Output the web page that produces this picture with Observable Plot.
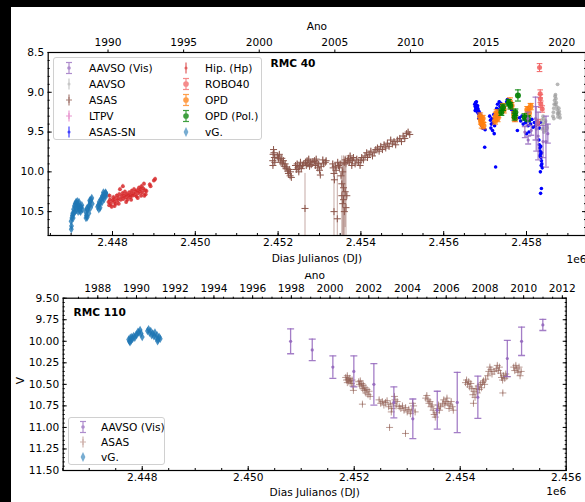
<!DOCTYPE html>
<html><head><meta charset="utf-8">
<script src="https://cdn.jsdelivr.net/npm/d3@7"></script>
<script src="https://cdn.jsdelivr.net/npm/@observablehq/plot@0.6"></script>
<style>
html,body{margin:0;padding:0;background:#fff;overflow:hidden;}
#wrap{position:relative;width:585px;height:502px;overflow:hidden;background:#fff;font-family:"DejaVu Sans",sans-serif;}
#top{position:absolute;left:0;top:0;z-index:2;width:600px;height:273px;overflow:hidden;background:#fff;}
#bot{position:absolute;left:0;top:240px;z-index:1;width:600px;height:262px;}
#top svg,#bot svg{max-width:none !important;display:block;}
.blk{position:absolute;background:#000;z-index:10;}
.legend{position:absolute;z-index:5;background:rgba(255,255,255,0.8);border:1px solid #d0d0d0;border-radius:3px;font-size:10.6px;box-sizing:border-box;}
.row{position:absolute;height:16px;line-height:16px;white-space:nowrap;color:#000;}
.row svg{position:absolute;top:0;}
</style></head>
<body>
<div id="wrap">
  <div id="top"></div>
  <div id="bot"></div>
  <div class="blk" style="left:0;top:0;width:585px;height:7px"></div>
  <div class="blk" style="left:0;top:0;width:11px;height:502px"></div>
</div>
<script>
// ---------- tick labels ----------
const topXTicks = [2448000, 2450000, 2452000, 2454000, 2456000, 2458000];
const topYTicks = [8.5, 9.0, 9.5, 10.0, 10.5];
const topYears = [1990, 1995, 2000, 2005, 2010, 2015, 2020];
const botXTicks = [2448000, 2450000, 2452000, 2454000, 2456000];
const botYTicks = [9.5, 9.75, 10.0, 10.25, 10.5, 10.75, 11.0, 11.25, 11.5];
const botYears = [1988, 1990, 1992, 1994, 1996, 1998, 2000, 2002, 2004, 2006, 2008, 2010, 2012];

// ---------- RMC 40 series [JD, mag, err] ----------
const topVG = [[2447000,10.62],[2447010,10.68],[2447020,10.58],[2447030,10.55],[2447040,10.52],[2447060,10.47],[2447080,10.43],[2447100,10.40],[2447120,10.38],[2447140,10.40],[2447160,10.44],[2447180,10.42],[2447200,10.46],[2447220,10.43],[2447240,10.45],[2447260,10.42],[2447270,10.47],[2447090,10.50],[2447130,10.48],[2447170,10.50],[2447210,10.49],[2447050,10.58],[2447110,10.45],[2447150,10.37],[2447190,10.38],[2447230,10.50],[2447005,10.72],[2447070,10.52],
[2447350,10.50],[2447370,10.55],[2447390,10.57],[2447400,10.48],[2447420,10.44],[2447440,10.42],[2447460,10.38],[2447480,10.35],[2447500,10.33],[2447510,10.40],[2447430,10.52],[2447470,10.45],[2447380,10.46],[2447360,10.58],[2447450,10.36],
[2447640,10.44],[2447660,10.42],[2447680,10.38],[2447700,10.40],[2447720,10.35],[2447740,10.33],[2447760,10.30],[2447780,10.32],[2447800,10.28],[2447820,10.30],[2447840,10.27],[2447860,10.29],[2447700,10.45],[2447750,10.38],[2447800,10.34],[2447830,10.26],[2447670,10.47],[2447780,10.26]];
const topHip = [[2447905,10.38],[2447920,10.42],[2447940,10.35],[2447960,10.40],[2447980,10.44],[2448000,10.36],[2448020,10.32],[2448040,10.38],[2448060,10.34],[2448080,10.40],[2448100,10.30],[2448120,10.36],[2448140,10.33],[2448160,10.28],[2448180,10.22],[2448200,10.35],[2448220,10.31],[2448240,10.27],[2448260,10.34],[2448280,10.30],[2448300,10.25],[2448320,10.32],[2448340,10.28],[2448360,10.35],[2448380,10.30],[2448400,10.26],[2448420,10.32],[2448440,10.29],[2448460,10.24],[2448480,10.30],[2448500,10.27],[2448520,10.22],[2448540,10.29],[2448560,10.25],[2448580,10.31],[2448600,10.23],[2448620,10.27],[2448640,10.20],[2448660,10.25],[2448680,10.22],[2448700,10.18],[2448720,10.26],[2448740,10.21],[2448760,10.15],[2448780,10.23],[2448800,10.28],[2448820,10.24],[2448900,10.16],[2448920,10.18],[2449000,10.11],[2449030,10.09],[2448250,10.18],[2448150,10.40],[2447930,10.30],[2448050,10.43],[2448330,10.38],[2448450,10.35],[2448610,10.33],[2448690,10.30],[2448770,10.30]];
const topASAS = [[2451870,9.86],[2451880,9.78],[2451890,9.72],[2451900,9.76],[2451910,9.82],[2451920,9.88],[2451875,9.92],[2451990,9.80],[2452010,9.83],[2452030,9.78],[2452050,9.85],[2452070,9.88],[2452090,9.83],[2452110,9.90],[2452130,9.86],[2452150,9.93],[2452170,9.90],[2452190,9.96],[2452210,9.94],[2452230,9.99],[2452250,10.02],[2452270,9.97],[2452290,10.05],[2452300,10.00],[2452320,10.07],
[2452420,9.92],[2452440,9.97],[2452460,9.90],[2452480,9.95],[2452500,10.00],[2452520,9.93],[2452540,9.88],[2452560,9.96],[2452590,9.92],[2452620,9.90],[2452660,9.88],[2452680,9.92],[2452700,9.86],[2452720,9.90],[2452740,9.84],[2452760,9.93],[2452780,9.88],[2452800,9.91],[2452840,9.87],[2452880,9.86],[2452900,9.92],[2452920,9.84],[2452940,9.89],[2452960,9.95],[2452980,9.90],[2453000,9.98],[2453020,10.04],[2453040,9.93],[2453080,9.85],[2453100,9.90],[2453140,9.88],[2453160,9.86],
[2453320,9.90],[2453330,9.95],[2453350,10.02],[2453360,10.10],[2453380,9.93],[2453400,9.98],[2453440,9.88],[2453460,9.92],[2453480,9.95],[2453500,9.90],[2453520,10.05],[2453540,10.15],[2453560,10.00],[2453580,10.20],[2453600,9.88],[2453620,9.85],[2453640,9.90],[2453660,10.30],[2453680,9.86],
[2453700,9.83],[2453720,9.88],[2453740,9.80],[2453760,9.85],[2453780,9.92],[2453800,9.86],[2453820,9.82],[2453860,9.90],[2453900,9.84],[2453940,9.88],[2453980,9.92],[2454000,9.86],[2454020,9.82],[2454060,9.85],[2454100,9.80],[2454140,9.76],[2454160,9.82],[2454200,9.78],[2454240,9.74],[2454280,9.80],[2454320,9.76],[2454360,9.72],[2454400,9.70],[2454440,9.74],[2454480,9.68],[2454520,9.72],[2454560,9.66],[2454600,9.70],[2454640,9.64],[2454680,9.68],[2454720,9.60],[2454760,9.65],[2454800,9.62],[2454840,9.66],[2454880,9.60],[2454940,9.58],[2454980,9.62],[2455020,9.55],[2455060,9.58],[2455100,9.52],[2455140,9.50],[2455180,9.53]];
const topASASBig = [[2452650,10.46,0.44],[2453350,10.50,0.55],[2453430,10.59,0.55],[2453540,10.30,0.5],[2453560,10.40,0.5],[2453580,10.35,0.55],[2453600,10.50,0.6],[2453620,10.25,0.45],[2453640,10.45,0.5]];
const topASASSN = [[2456750,9.15],[2456760,9.18],[2456770,9.13],[2456780,9.20],[2456790,9.16],[2456800,9.22],[2456810,9.19],[2456820,9.25],[2456830,9.21],[2456840,9.27],[2456850,9.24],[2456860,9.30],[2456870,9.26],[2456880,9.32],[2456890,9.29],[2456900,9.35],[2456910,9.38],[2456920,9.42],[2456930,9.40],[2456940,9.45],[2456760,9.23],[2456790,9.12],[2456820,9.17],[2456850,9.33],
[2456990,9.69],[2457000,9.47],[2457254,9.94],
[2457110,9.30],[2457130,9.35],[2457150,9.40],[2457170,9.33],[2457190,9.38],[2457210,9.28],[2457230,9.42],[2457140,9.45],[2457180,9.48],[2457220,9.52],
[2457280,9.20],[2457300,9.15],[2457320,9.22],[2457340,9.12],[2457360,9.18],[2457380,9.14],[2457400,9.24],[2457420,9.19],
[2457520,9.12],[2457540,9.09],[2457560,9.15],[2457580,9.11],[2457600,9.18],[2457620,9.14],[2457640,9.22],
[2457680,9.25],[2457700,9.30],[2457720,9.35],[2457740,9.28],[2457760,9.33],[2457780,9.48],
[2457830,9.32],[2457860,9.36],[2457890,9.30],[2457920,9.40],[2457950,9.34],[2457980,9.38],[2458010,9.32],[2458040,9.42],[2458070,9.36],[2458100,9.40],[2458130,9.34],[2458160,9.44],[2458190,9.38],[2458220,9.42],[2458250,9.36],[2458280,9.40],[2458310,9.45],[2458340,9.38],[2458000,9.52],[2458060,9.50],
[2458300,9.60],[2458310,9.66],[2458320,9.70],[2458330,9.74],[2458340,9.78],[2458350,9.82],[2458360,9.86],[2458370,9.90],[2458380,9.95],[2458325,9.80],[2458345,9.68],[2458355,9.92],[2458365,9.76],[2458335,10.00],[2458340,10.27],[2458360,10.21]];
const topOPD = [[2456880,9.30,0.04],[2456900,9.36,0.04],[2456920,9.40,0.05],[2456940,9.33,0.04],[2456960,9.42,0.04],[2457240,9.36,0.04],[2457260,9.30,0.05],[2457280,9.26,0.04],[2457300,9.33,0.04],[2457320,9.28,0.04],[2457430,9.18,0.04],[2457450,9.22,0.04],[2457600,9.12,0.05],[2457640,9.17,0.04],[2457700,9.28,0.04],[2457720,9.33,0.04],[2458020,9.22,0.04],[2458060,9.26,0.04],[2458100,9.18,0.04]];
const topOPDPol = [[2457392,9.25,0.04],[2457431,9.19,0.04],[2457570,9.13,0.04],[2457610,9.17,0.04],[2457712,9.31,0.04],[2457730,9.25,0.04],[2457793,9.04,0.07],[2457953,9.31,0.04],[2458033,9.33,0.04]];
const topROBO = [[2458315,8.69,0.05],[2458331,9.02,0.05],[2458335,9.08,0.05],[2458345,9.15,0.04],[2458380,9.21,0.04],[2458275,9.38,0.04]];
const topAAVSOVis = [[2458033,9.33,0.08],[2458114,9.48,0.06],[2458218,9.33,0.27],[2458235,9.46,0.28],[2458280,9.55,0.3],[2458470,9.62,0.32],[2458515,9.52,0.12],[2458040,9.60,0.05],[2457960,9.50,0.07],[2458400,9.62,0.2]];
const topAAVSO = [[2458370,9.35],[2458390,9.40],[2458410,9.33],[2458430,9.45],[2458450,9.38],[2458470,9.48],[2458490,9.42],[2458380,9.46],[2458420,9.50],[2458460,9.36],[2458500,9.45],[2458400,9.30],
[2458640,9.30],[2458650,9.25],[2458660,9.20],[2458670,9.15],[2458680,9.10],[2458690,9.05],[2458700,9.03],[2458710,9.08],[2458720,9.13],[2458730,9.18],[2458740,9.22],[2458750,9.27],[2458760,9.31],[2458770,9.26],[2458780,9.20],[2458790,9.24],[2458800,9.28],[2458810,9.32],[2458660,9.33],[2458700,9.15],[2458750,8.90]];

// ---------- RMC 110 series ----------
const botVG = [[2447745,9.98],[2447760,10.00],[2447775,9.96],[2447790,9.99],[2447805,9.95],[2447820,9.97],[2447840,9.94],[2447860,9.96],[2447880,9.93],[2447900,9.92],[2447920,9.89],[2447940,9.90],[2447960,9.87],[2447980,9.91],[2448000,9.95],
[2448100,9.88],[2448120,9.86],[2448140,9.90],[2448160,9.88],[2448180,9.93],[2448200,9.91],[2448220,9.94],[2448240,9.90],[2448260,9.96],[2448280,9.93],[2448300,9.98],[2448320,9.95],[2448340,9.97],[2447770,10.01],[2448290,10.0]];
const botAAVSOVis = [[2450800,10.0,0.145],[2451208,10.1,0.125],[2451597,10.3,0.13],[2451993,10.35,0.18],[2452371,10.5,0.24],[2452748,10.71,0.18],[2453106,10.90,0.23],[2453567,10.80,0.22],[2453944,10.71,0.35],[2454333,10.65,0.245],[2454889,10.2,0.21],[2455158,10.0,0.165],[2455559,9.81,0.065]];
const botASAS = [[2451840,10.42],[2451855,10.45],[2451870,10.40],[2451885,10.44],[2451900,10.47],[2451915,10.43],[2451930,10.46],[2451945,10.49],[2451960,10.45],[2451975,10.52],[2451985,10.57],[2451870,10.48],
[2452085,10.47],[2452100,10.50],[2452115,10.46],[2452130,10.52],[2452145,10.49],[2452160,10.55],[2452175,10.51],[2452190,10.57],[2452205,10.54],[2452220,10.60],[2452240,10.56],[2452260,10.62],[2452280,10.58],[2452300,10.64],[2452155,10.73],
[2452470,10.68],[2452500,10.72],[2452530,10.70],[2452560,10.74],[2452590,10.71],[2452620,10.69],[2452650,10.76],[2452680,10.73],[2452710,10.78],[2452740,10.72],[2452770,10.68],[2452790,10.75],[2452810,10.70],[2452700,10.82],[2452667,11.0],[2452760,10.64],
[2452850,10.76],[2452880,10.78],[2452910,10.75],[2452940,10.80],[2452970,10.77],[2453000,10.82],[2453030,10.79],[2453060,10.84],[2453090,10.80],[2453120,10.75],[2453150,10.82],[2452968,11.07],[2453100,10.72],
[2453350,10.66],[2453370,10.63],[2453390,10.68],[2453410,10.72],[2453430,10.70],[2453450,10.76],[2453470,10.74],[2453490,10.80],[2453510,10.85],[2453530,10.88],[2453550,10.83],[2453570,10.78],[2453590,10.74],[2453610,10.80],[2453630,10.76],
[2453670,10.72],[2453690,10.68],[2453710,10.74],[2453730,10.70],[2453750,10.66],[2453770,10.72],[2453790,10.78],[2453810,10.74],[2453830,10.70],[2453850,10.76],[2453870,10.80],
[2454100,10.48],[2454120,10.45],[2454140,10.50],[2454160,10.47],[2454180,10.53],[2454200,10.49],[2454220,10.55],
[2454240,10.62],[2454260,10.58],[2454280,10.65],[2454300,10.55],[2454320,10.60],[2454340,10.52],[2454360,10.56],[2454380,10.50],[2454400,10.54],[2454420,10.48],[2454440,10.46],[2454460,10.50],[2454250,10.72],[2454480,10.44],
[2454520,10.40],[2454540,10.35],[2454560,10.30],[2454580,10.33],[2454600,10.38],[2454640,10.35],[2454680,10.32],[2454700,10.28],[2454720,10.34],[2454740,10.30],[2454760,10.37],[2454780,10.42],[2454800,10.45],[2454820,10.40],[2454840,10.43],[2454860,10.38],[2454880,10.41],[2454804,10.60],
[2455010,10.30],[2455030,10.34],[2455050,10.28],[2455070,10.32],[2455090,10.36],[2455110,10.30],[2455130,10.40],[2455150,10.35]];

// ---------- helpers ----------
const fmtJD = d => (d / 1e6).toFixed(3);
const jdOfYear = y => 2451544.5 + (y - 2000) * 365.25;
const yearOfJd = jd => String(Math.round(2000 + (jd - 2451544.5) / 365.25));
const rows = (arr, defErr) => arr.map(([jd, mag, err]) => ({jd, mag, err: err ?? defErr}));
const capSym = {draw(ctx, size) { const w = Math.sqrt(size / Math.PI); ctx.moveTo(-w, 0); ctx.lineTo(w, 0); }};

function errMarks(arr, o) {
  const data = rows(arr, o.err ?? 0);
  const m = [];
  if (o.bars !== false) m.push(Plot.ruleX(data, {x: "jd", y1: d => d.mag - d.err, y2: d => d.mag + d.err, stroke: o.color, strokeOpacity: o.barOpacity ?? 1, strokeWidth: o.barWidth ?? 1, clip: true}));
  if (o.caps) {
    m.push(Plot.dot(data, {x: "jd", y: d => d.mag - d.err, symbol: capSym, r: o.caps, stroke: o.color, strokeOpacity: o.barOpacity ?? 1, strokeWidth: o.barWidth ?? 1, fill: "none", clip: true}));
    m.push(Plot.dot(data, {x: "jd", y: d => d.mag + d.err, symbol: capSym, r: o.caps, stroke: o.color, strokeOpacity: o.barOpacity ?? 1, strokeWidth: o.barWidth ?? 1, fill: "none", clip: true}));
  }
  if (o.symbol === "plus") {
    m.push(Plot.dot(data, {x: "jd", y: "mag", symbol: "plus", r: o.r, stroke: o.color, strokeOpacity: o.opacity ?? 1, strokeWidth: 1, clip: true}));
  } else {
    m.push(Plot.dot(data, {x: "jd", y: "mag", symbol: o.symbol ?? "circle", r: o.r, fill: o.color, fillOpacity: o.opacity ?? 1, stroke: "none", clip: true}));
  }
  return m;
}

function axes(xMajor, xMinor, yMajor, yMinor, yFmt, yearTicks, yearMinor) {
  return [
    Plot.axisX({ticks: xMajor, anchor: "bottom", tickSize: -4, tickPadding: 7, tickFormat: fmtJD, label: null}),
    Plot.axisX({ticks: xMinor, anchor: "bottom", tickSize: -2, tickFormat: () => "", label: null}),
    Plot.axisY({ticks: yMajor, anchor: "left", tickSize: -4, tickPadding: 8, tickFormat: yFmt, label: null}),
    Plot.axisY({ticks: yMinor, anchor: "left", tickSize: -2, tickFormat: () => "", label: null}),
    Plot.axisY({ticks: yMajor, anchor: "right", tickSize: -4, tickFormat: () => "", label: null}),
    Plot.axisY({ticks: yMinor, anchor: "right", tickSize: -2, tickFormat: () => "", label: null}),
    Plot.axisX({ticks: yearTicks.map(jdOfYear), anchor: "top", tickSize: 3.5, tickPadding: 3, tickFormat: yearOfJd, label: null}),
    ...(yearMinor ? [Plot.axisX({ticks: yearMinor.map(jdOfYear), anchor: "top", tickSize: 2, tickFormat: () => "", label: null})] : []),
    Plot.frame({stroke: "#000", strokeWidth: 1.2})
  ];
}
const txt = (s, o) => Plot.text([s], {text: d => d, lineAnchor: "middle", fill: "#000", ...o});

// ---------- top chart: RMC 40 ----------
const topChart = Plot.plot({
  width: 600, height: 273,
  marginLeft: 47.7, marginRight: 15, marginTop: 52, marginBottom: 38,
  style: {fontFamily: "DejaVu Sans", fontSize: "10.6px", background: "white", overflow: "visible", maxWidth: "none"},
  x: {domain: [2446447, 2459425]},
  y: {domain: [8.5, 10.8], reverse: true},
  marks: [
    ...errMarks(topVG, {color: "#1f77b4", bars: false, symbol: "diamond", r: 2.6, opacity: 0.8}),
    ...errMarks(topHip, {color: "#d62728", err: 0.025, r: 2, opacity: 0.8, barOpacity: 0.5}),
    ...errMarks(topASASBig, {color: "#8c564b", symbol: "plus", r: 2.4, barOpacity: 0.5}),
    ...errMarks(topASAS, {color: "#8c564b", err: 0.03, symbol: "plus", r: 2.4, barOpacity: 0.5}),
    ...errMarks(topASASSN, {color: "#0000ff", err: 0.01, r: 1.8}),
    ...errMarks(topAAVSO, {color: "#9a9a9a", bars: false, r: 1.9, opacity: 0.7}),
    ...errMarks(topOPD, {color: "#ff7f0e", caps: 3, r: 3, opacity: 0.9}),
    ...errMarks(topOPDPol, {color: "#008000", caps: 3, r: 3, opacity: 0.9}),
    ...errMarks(topROBO, {color: "#f26565", caps: 2.8, r: 2.5, opacity: 0.9}),
    ...errMarks(topAAVSOVis, {color: "#9467bd", caps: 3, r: 1.6, opacity: 0.9, barOpacity: 0.8, barWidth: 1.3}),
    ...axes(topXTicks, d3.range(2446500, 2459500, 500), topYTicks, d3.range(8.5, 10.81, 0.1).map(v => +v.toFixed(2)), d => d.toFixed(1), topYears, null),
    txt("RMC 40", {frameAnchor: "top-left", dx: 222.3, dy: 11, textAnchor: "start", fontWeight: "bold"}),
    txt("Ano", {frameAnchor: "top", dy: -26}),
    txt("Dias Julianos (DJ)", {frameAnchor: "bottom", dy: 23}),
    txt("1e6", {frameAnchor: "bottom-right", dy: 24, dx: 1, textAnchor: "end"})
  ]
});
document.getElementById("top").appendChild(topChart);

// ---------- bottom chart: RMC 110 ----------
const botChart = Plot.plot({
  width: 600, height: 262,
  marginLeft: 62.7, marginRight: 34.3, marginTop: 57.7, marginBottom: 32,
  style: {fontFamily: "DejaVu Sans", fontSize: "10.6px", background: "white", overflow: "visible", maxWidth: "none"},
  x: {domain: [2446509, 2456000]},
  y: {domain: [9.5, 11.5], reverse: true},
  marks: [
    ...errMarks(botVG, {color: "#1f77b4", bars: false, symbol: "diamond", r: 2.6, opacity: 0.8}),
    ...errMarks(botASAS, {color: "#8c564b", err: 0.02, symbol: "plus", r: 2.4, opacity: 0.6, barOpacity: 0.3}),
    ...errMarks(botAAVSOVis, {color: "#9467bd", caps: 3.5, r: 1.6, opacity: 0.9, barOpacity: 0.85, barWidth: 1.3}),
    ...axes(botXTicks, d3.range(2446500, 2456001, 500), botYTicks, d3.range(9.5, 11.51, 0.05).map(v => +v.toFixed(2)), d => d.toFixed(2), botYears, d3.range(1987, 2012.1, 0.5)),
    txt("RMC 110", {frameAnchor: "top-left", dx: 10.3, dy: 14, textAnchor: "start", fontWeight: "bold"}),
    txt("Ano", {frameAnchor: "top", dy: -23}),
    txt("Dias Julianos (DJ)", {frameAnchor: "bottom", dy: 22}),
    txt("1e6", {frameAnchor: "bottom-right", dy: 21, textAnchor: "end"}),
    txt("V", {frameAnchor: "left", dx: -42.7, rotate: -90})
  ]
});
document.getElementById("bot").appendChild(botChart);

// ---------- legends ----------
function marker(it) {
  const c = it.color, op = 0.75;
  let s = `<svg width="20" height="16" viewBox="0 0 20 16" style="opacity:${op}">`;
  if (it.kind === "diamond") {
    s += `<path d="M10,3 L12.4,8 L10,13 L7.6,8 Z" fill="${c}" fill-opacity="0.8"/>`;
  } else {
    s += `<line x1="10" y1="2.5" x2="10" y2="13.5" stroke="${c}" stroke-width="1.2"/>`;
    if (it.caps) s += `<line x1="7" y1="2.5" x2="13" y2="2.5" stroke="${c}" stroke-width="1.2"/><line x1="7" y1="13.5" x2="13" y2="13.5" stroke="${c}" stroke-width="1.2"/>`;
    if (it.kind === "plus") s += `<path d="M7,8H13M10,5V11" stroke="${c}" stroke-width="1.2"/>`;
    else s += `<circle cx="10" cy="8" r="${it.r}" fill="${c}"/>`;
  }
  return s + `</svg>`;
}
function legend(box, cols) {
  const div = document.createElement("div");
  div.className = "legend";
  Object.assign(div.style, {left: box.left + "px", top: box.top + "px", width: box.w + "px", height: box.h + "px"});
  cols.forEach(col => col.items.forEach((it, i) => {
    const r = document.createElement("div");
    r.className = "row";
    r.style.top = (box.y0 + i * box.dy - 8) + "px";
    r.style.left = (col.mx - 10) + "px";
    r.innerHTML = marker(it) + `<span style="position:absolute;left:${col.tx - col.mx + 10}px">${it.label}</span>`;
    div.appendChild(r);
  }));
  document.getElementById("wrap").appendChild(div);
}
const topLegendCol1 = [
  {label: "AAVSO (Vis)", color: "#9467bd", kind: "err", caps: true, r: 1.8},
  {label: "AAVSO", color: "#b5b5b5", kind: "err", caps: false, r: 1.5},
  {label: "ASAS", color: "#8c564b", kind: "plus"},
  {label: "LTPV", color: "#e377c2", kind: "plus"},
  {label: "ASAS-SN", color: "#0000ff", kind: "err", caps: false, r: 1.5}
];
const topLegendCol2 = [
  {label: "Hip. (Hp)", color: "#d62728", kind: "err", caps: false, r: 1.5},
  {label: "ROBO40", color: "#f26565", kind: "err", caps: true, r: 2.8},
  {label: "OPD", color: "#ff7f0e", kind: "err", caps: true, r: 2.8},
  {label: "OPD (Pol.)", color: "#008000", kind: "err", caps: true, r: 2.8},
  {label: "vG.", color: "#1f77b4", kind: "diamond"}
];
const botLegendItems = [
  {label: "AAVSO (Vis)", color: "#9467bd", kind: "err", caps: true, r: 1.8},
  {label: "ASAS", color: "#c09a92", kind: "plus"},
  {label: "vG.", color: "#1f77b4", kind: "diamond"}
];
legend({left: 53, top: 57, w: 209, h: 83, y0: 10, dy: 16}, [{mx: 15, tx: 35, items: topLegendCol1}, {mx: 132, tx: 151, items: topLegendCol2}]);
legend({left: 68, top: 417, w: 97, h: 48, y0: 8.5, dy: 15.2}, [{mx: 14, tx: 32, items: botLegendItems}]);
</script>
</body></html>
